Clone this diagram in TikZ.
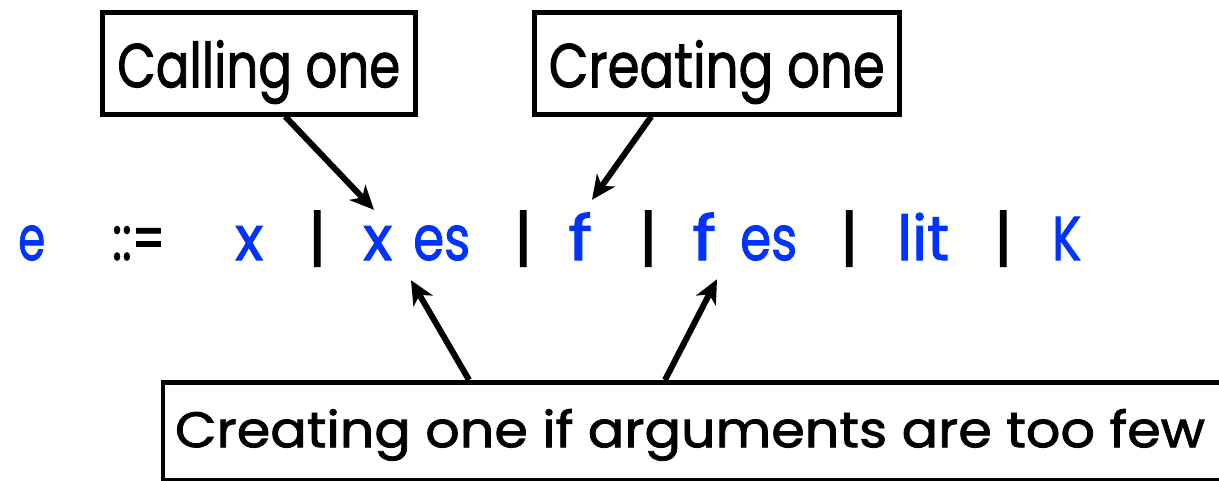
\documentclass[tikz,border=0pt]{standalone}
\usepackage{fontspec}
\setmainfont{Poppins}[FakeBold=1.6]
\usepackage{graphicx}
\usetikzlibrary{arrows.meta}
\definecolor{gblue}{RGB}{0,51,255}
\newcommand{\tk}[2]{\resizebox{#1pt}{\height}{#2}}
\begin{document}
\begin{tikzpicture}[x=1pt,y=-1pt,
  lbl/.style={draw=black,line width=4.5pt,inner sep=0pt,text height=75pt,text depth=27pt,minimum height=102pt,font=\fontsize{62}{62}\selectfont},
  tok/.style={inner sep=0pt,anchor=base west,text height=47pt,text depth=10pt,font=\fontsize{62}{62}\selectfont,text=gblue},
  bar/.style={tok,text=black},
  arr/.style={line width=6pt,-{Stealth[length=24pt,width=22pt,inset=7pt]}}]
\useasboundingbox (0,0) rectangle (1219,480);
% grammar line
\node[tok] (e) at (18,260) {\tk{27}{e}};
\node[bar] (def) at (112,260) {\tk{53}{::=}};
\node[tok] (x1) at (235,260) {\tk{28}{x}};
\node[bar] (b1) at (308,260) {|};
\node[tok] (x2) at (363,260) {\tk{29}{x}};
\node[tok] (es1) at (413,260) {\tk{57}{es}};
\node[bar] (b2) at (514,260) {|};
\node[tok] (f1) at (568,260) {\tk{24}{f}};
\node[bar] (b3) at (639,260) {|};
\node[tok] (f2) at (692,260) {\tk{24}{f}};
\node[tok] (es2) at (740,260) {\tk{57}{es}};
\node[bar] (b4) at (840,260) {|};
\node[tok] (lit) at (897,260) {\tk{52}{lit}};
\node[bar] (b5) at (994,260) {|};
\node[tok] (K) at (1052,260) {\tk{29}{K}};
% label boxes
\node[lbl,minimum width=313pt,anchor=north west] (call) at (100,10) {\tk{283}{Calling one}};
\node[lbl,minimum width=365pt,anchor=north west] (create) at (532,10) {\tk{336}{Creating one}};
\node[lbl,minimum width=1062pt,minimum height=98pt,text height=65pt,text depth=33pt,anchor=north,font=\fontsize{50}{50}\selectfont] (few) at (694,380) {\hspace*{-8pt}\tk{1030}{Creating one if arguments are too few}};
% arrows
\draw[arr] ([xshift=26.5pt]call.south) -- ([xshift=11pt,yshift=3pt]x2.north west);
\draw[arr] ([xshift=-65.5pt]create.south) -- ([xshift=24pt,yshift=13pt]f1.north west);
\draw[arr] ([xshift=-225pt]few.north) -- ([xshift=-2pt,yshift=-10pt]es1.south west);
\draw[arr] ([xshift=-29pt]few.north) -- ([xshift=25pt,yshift=-9pt]f2.south west);
\end{tikzpicture}
\end{document}
